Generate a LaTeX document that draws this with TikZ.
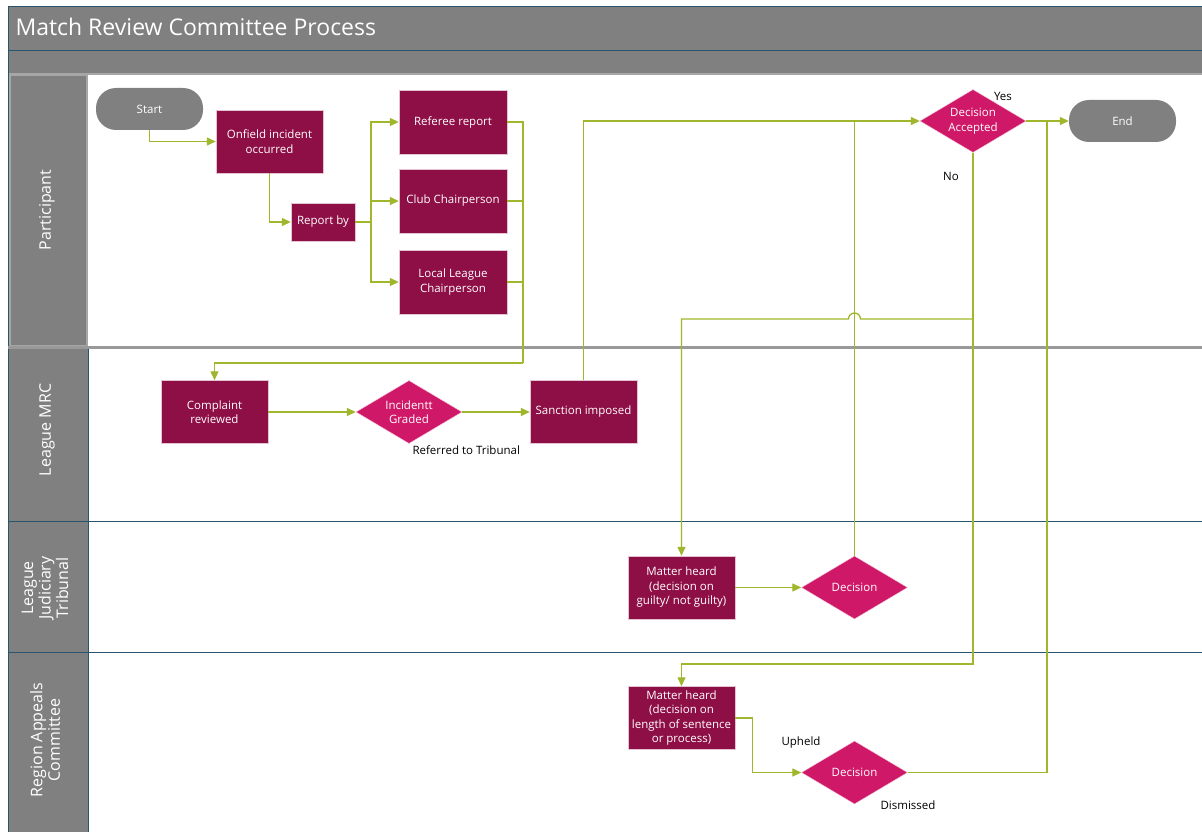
\documentclass[tikz,border=0pt]{standalone}
\usepackage{fontspec}
\setmainfont{Open Sans}
\usetikzlibrary{shapes.geometric,arrows.meta,positioning}
\definecolor{lanegray}{RGB}{128,128,128}
\definecolor{boxred}{RGB}{142,14,70}
\definecolor{decpink}{RGB}{208,24,104}
\definecolor{flowgreen}{RGB}{160,182,44}
\definecolor{laneline}{RGB}{40,84,110}

\begin{document}
\begin{tikzpicture}[x=1pt,y=-1pt,
  every node/.style={font=\fontsize{11.5}{14.5}\selectfont},
  proc/.style={rectangle,fill=boxred,draw=white!75!boxred,text=white,minimum width=107pt,minimum height=63pt,align=center,inner sep=1pt},
  dec/.style={diamond,fill=decpink,draw=white!75!decpink,text=white,minimum width=106pt,minimum height=63pt,aspect=1.68,align=center,inner sep=0pt},
  term/.style={rectangle,rounded corners=20pt,fill=lanegray,text=white,minimum width=107pt,minimum height=42pt},
  link/.style={draw=flowgreen,line width=1.3pt},
  flow/.style={link,-{Triangle[length=9pt,width=8pt]}},
  lanetext/.style={rotate=90,text=white,align=center,font=\fontsize{16}{17.5}\selectfont},
  tag/.style={font=\fontsize{11.5}{13}\selectfont}]
\useasboundingbox (0,0) rectangle (1202,832);
\fill[white] (0,0) rectangle (1202,832);
\fill[lanegray] (8,6) rectangle (1202,73);
\fill[lanegray] (8,74) rectangle (88,832);
\draw[laneline] (8,6) -- (1202,6);
\draw[laneline] (8,50) -- (1202,50);
\draw[laneline] (8,6) -- (8,832);
\draw[laneline] (88,347) -- (88,832);
\foreach \y in {521,652}
  \draw[laneline] (8,\y) -- (1202,\y);
\draw[gray!70,line width=2pt] (9,74) -- (1202,74);
\draw[gray!70,line width=2pt] (10,75) rectangle (87,346);
\draw[gray!80,line width=3pt] (8,347) -- (1202,347);

\node[anchor=base west,text=white,font=\fontsize{23}{28}\selectfont] (title) at (12,36) {Match Review Committee Process};
\node[lanetext] (lpart) at (47,210) {Participant};
\node[lanetext] (lmrc) at (47,430) {League MRC};
\node[lanetext] (ltrib) at (45,588) {League\\Judiciary\\Tribunal};
\node[lanetext] (lappeal) at (45,740) {Region Appeals\\Committee};

\node[term] (start) at (149.5,109) {Start};
\node[proc] (onfield) at (269.5,141.5) {Onfield incident\\occurred};
\node[proc,minimum width=64pt,minimum height=38pt] (reportby) at (323,222) {Report by};
\node[proc,minimum width=108pt,minimum height=64pt] (referee) at (453,122) {Referee report};
\node[proc,minimum width=108pt,minimum height=64pt] (club) at (453,201) {Club Chairperson};
\node[proc,minimum width=108pt,minimum height=64pt] (local) at (453,282) {Local League\\Chairperson};
\node[proc] (complaint) at (214.5,412) {Complaint\\reviewed};
\node[dec] (graded) at (409,412) {Incidentt\\Graded};
\node[proc] (sanction) at (583.5,412) {Sanction imposed};
\node[dec] (accepted) at (973,121) {Decision\\Accepted};
\node[term] (end) at (1122.5,121) {End};
\node[proc] (tribunal) at (681.5,587.5) {Matter heard\\(decision on\\guilty/ not guilty)};
\node[dec] (tdecision) at (854.5,587.5) {Decision};
\node[proc] (appeal) at (681.5,718) {Matter heard\\(decision on\\length of sentence\\or process)};
\node[dec] (adecision) at (854.5,772.5) {Decision};

\node[tag] (yes) at (1003,96) {Yes};
\node[tag] (no) at (951,176) {No};
\node[tag,anchor=west] (referred) at (409,450) {Referred to Tribunal};
\node[tag] (upheld) at (801,743) {Upheld};
\node[tag] (dismissed) at (908,805) {Dismissed};

\coordinate (split) at (371,222);
\coordinate (merge) at (523,363);
\coordinate (endjoin) at (1047,121);
\coordinate (nosplit) at (973,319);
\coordinate (nolow) at (973,664);

\draw[flow] (start.south) |- (onfield.west);
\draw[flow] (onfield.south) |- (reportby.west);
\foreach \n in {referee,club,local}
{
  \draw[flow] (reportby.east) -- (split) |- (\n.west);
  \draw[link] (\n.east) -| (merge);
}
\draw[flow] (merge) -| (complaint.north);
\draw[flow] (complaint.east) -- (graded.west);
\draw[flow] (graded.east) -- (sanction.west);
\draw[flow] (sanction.north) |- (accepted.west);
\draw[flow] (accepted.east) -- (end.west);
\draw[link] (tdecision.north) -- (tdecision.north |- accepted.west);
\draw[flow] (accepted.south) -- (nolow) -| (appeal.north);
\draw[flow] (nosplit) -- (860.5,319) arc[start angle=0,end angle=180,radius=6pt] -- (tribunal.north |- nosplit) -- (tribunal.north);
\draw[flow] (tribunal.east) -- (tdecision.west);
\draw[flow] (appeal.east) -- ++(17,0) |- (adecision.west);
\draw[link] (adecision.east) -| (endjoin);
\end{tikzpicture}
\end{document}
